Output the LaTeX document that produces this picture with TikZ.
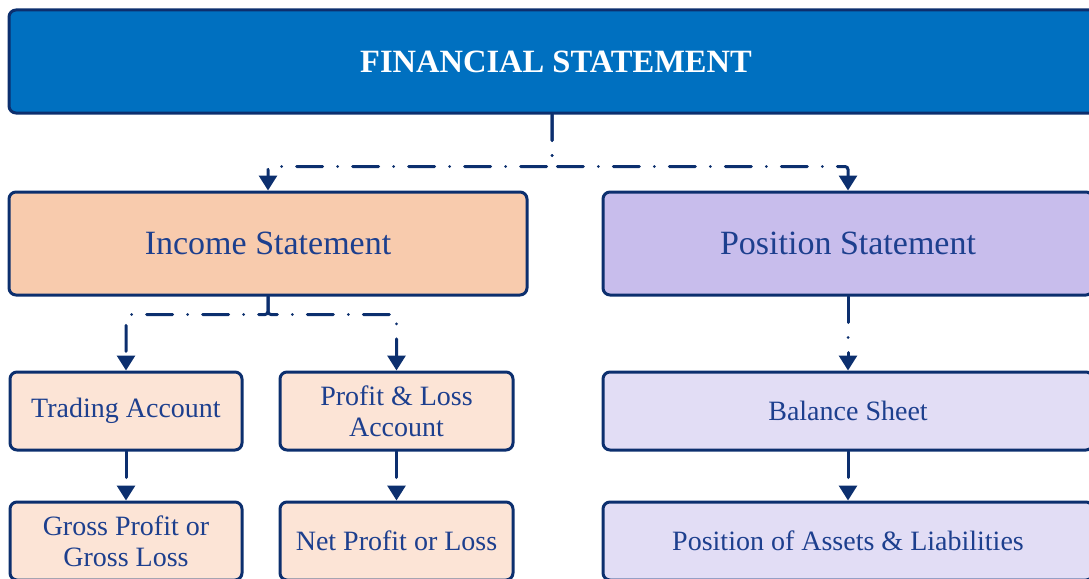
\documentclass[tikz,border=0pt]{standalone}
\usepackage{fontspec}
\setmainfont{Liberation Serif}
\usetikzlibrary{arrows.meta}

\definecolor{navy}{HTML}{0C2F6E}
\definecolor{inkblue}{HTML}{1D3F8E}
\definecolor{topblue}{HTML}{0070C0}
\definecolor{peach}{HTML}{F8CBAD}
\definecolor{peachlight}{HTML}{FCE4D6}
\definecolor{lilac}{HTML}{C8BDEC}
\definecolor{lilaclight}{HTML}{E2DDF5}

\tikzset{
  box/.style={draw=navy, line width=3pt, rounded corners=7pt, inner sep=0pt,
              align=center, text=inkblue},
  bigbox/.style={box, minimum height=103pt, font=\fontsize{34}{38}\selectfont},
  smallbox/.style={box, minimum height=78pt, font=\fontsize{28}{31}\selectfont},
  link/.style={draw=navy, line width=3pt, line cap=round, rounded corners=3pt,
               dash pattern=on 26pt off 15pt on 0pt off 15pt,
               -{Triangle[width=18pt,length=15pt]}},
}

\begin{document}
\begin{tikzpicture}[x=1pt,y=-1pt]
\useasboundingbox (0,0) rectangle (1089,578);
\clip (0,0) rectangle (1089,578);

% top level
\node[bigbox, fill=topblue, text=white, minimum width=1094pt,
      font=\fontsize{32.5}{36}\selectfont\bfseries] (fs) at (556,61.5) {FINANCIAL STATEMENT};

% second level
\node[bigbox, fill=peach, minimum width=518pt] (is) at (268,243.5) {Income Statement};
\node[bigbox, fill=lilac, minimum width=490pt] (ps) at (848,243.5) {Position Statement};

% third level
\node[smallbox, fill=peachlight, minimum width=232pt] (ta) at (126,411) {Trading Account};
\node[smallbox, fill=peachlight, minimum width=233pt] (pl) at (396.5,411) {Profit \& Loss\\Account};
\node[smallbox, fill=lilaclight, minimum width=490pt] (bs) at (848,411) {Balance Sheet};

% fourth level
\node[smallbox, fill=peachlight, minimum width=232pt] (gp) at (126,541) {Gross Profit or\\Gross Loss};
\node[smallbox, fill=peachlight, minimum width=233pt] (np) at (396.5,541) {Net Profit or Loss};
\node[smallbox, fill=lilaclight, minimum width=490pt] (pa) at (848,541) {Position of Assets \& Liabilities};

% connectors
\coordinate (fsout) at ([xshift=-4pt]fs.south);
\draw[link] (fsout) -- ++(0,52) -| (is.north);
\draw[link] (fsout) -- ++(0,52) -| (ps.north);
\draw[link] (is.south) -- ++(0,18) -| (ta.north);
\draw[link] (is.south) -- ++(0,18) -| (pl.north);
\draw[link] (ps.south) -- (bs.north);
\draw[link] (ta.south) -- (gp.north);
\draw[link] (pl.south) -- (np.north);
\draw[link] (bs.south) -- (pa.north);
\end{tikzpicture}
\end{document}
